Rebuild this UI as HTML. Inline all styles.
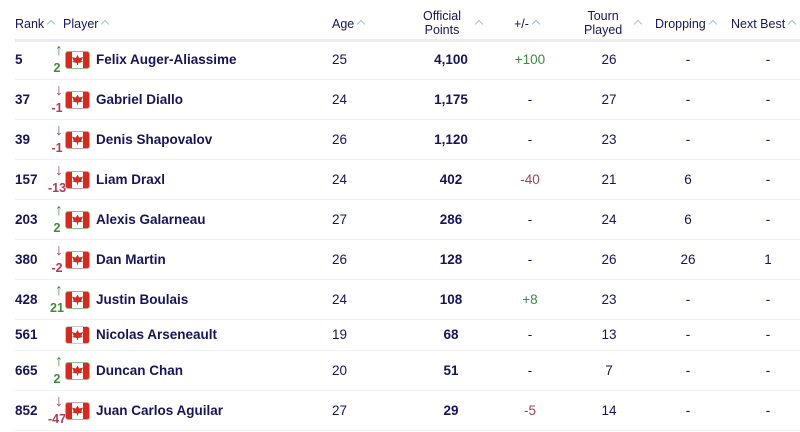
<!DOCTYPE html>
<html><head><meta charset="utf-8"><style>
body{margin:0;width:800px;height:432px;background:#fff;font-family:"Liberation Sans",sans-serif;color:#16155a;overflow:hidden;position:relative}
.h{position:absolute;font-size:12.5px;color:#16155a;line-height:14px;white-space:nowrap}
.c{display:inline-block;width:5px;height:5px;border-left:1px solid #a9bfd3;border-top:1px solid #a9bfd3;transform:rotate(45deg);margin:0 3px 1px 4px;vertical-align:middle}
.hl{position:absolute;left:15px;right:0;top:39px;height:3px;background:#ececf0}
.r{position:absolute;left:15px;right:0;border-bottom:1px solid #f0f0f2}
.r span{position:absolute;top:50%;transform:translateY(-50%);font-size:13.5px;white-space:nowrap;line-height:16px}
.rk{left:0;font-weight:bold}
.nm{left:81px;font-weight:bold}
.ag{left:317px}
.pt,.cc{width:80px;margin-left:-40px;text-align:center}
.pt{left:436px;font-weight:bold}
.g{color:#3d8c3d}.d{color:#a8405a}
.fl{position:absolute;left:50px;top:50%;margin-top:-9px;width:23px;height:16px;border:1px solid #ccc;border-radius:3px;background:linear-gradient(90deg,#d52b1e 0 27%,#fff 27% 73%,#d52b1e 73%);overflow:hidden}
.fl:after{content:"";position:absolute;left:6px;top:3px;width:11px;height:10px;background:#d52b1e;clip-path:polygon(50% 0,65% 30%,100% 20%,85% 60%,100% 70%,55% 80%,55% 100%,45% 100%,45% 80%,0 70%,15% 60%,0 20%,35% 30%)}
.fg{border-color:#8fc08f}.fd{border-color:#d9a0ac}
.ar{position:absolute;left:37px;width:14px;text-align:center;font-size:16px;line-height:14px}
.mv{position:absolute;left:32px;width:20px;text-align:center;font-size:12.5px;font-weight:bold;line-height:12px}
</style></head><body>
<div class="h" style="left:15px;top:17px">Rank<span class="c"></span></div>
<div class="h" style="left:63px;top:17px">Player<span class="c"></span></div>
<div class="h" style="left:332px;top:17px">Age<span class="c"></span></div>
<div class="h" style="left:423px;top:9px;text-align:center">Official<br>Points</div><div class="h" style="left:472px;top:17px"><span class="c"></span></div>
<div class="h" style="left:514px;top:17px">+/-<span class="c"></span></div>
<div class="h" style="left:584px;top:9px;text-align:center">Tourn<br>Played</div><div class="h" style="left:631px;top:17px"><span class="c"></span></div>
<div class="h" style="left:655px;top:17px">Dropping<span class="c"></span></div>
<div class="h" style="left:731px;top:17px">Next Best<span class="c"></span></div>
<div class="hl"></div>

<div class="r" style="top:41px;height:38px"><span class="rk">5</span><div class="ar g" style="top:3px">↑</div><div class="mv g" style="top:21px">2</div><div class="fl fg"></div><span class="nm">Felix Auger-Aliassime</span><span class="ag">25</span><span class="pt">4,100</span><span class="cc g" style="left:515px">+100</span><span class="cc" style="left:594px">26</span><span class="cc" style="left:673px">-</span><span class="cc" style="left:753px">-</span></div>

<div class="r" style="top:80px;height:39px"><span class="rk">37</span><div class="ar d" style="top:4px">↓</div><div class="mv d" style="top:22px">-1</div><div class="fl fd"></div><span class="nm">Gabriel Diallo</span><span class="ag">24</span><span class="pt">1,175</span><span class="cc" style="left:515px">-</span><span class="cc" style="left:594px">27</span><span class="cc" style="left:673px">-</span><span class="cc" style="left:753px">-</span></div>

<div class="r" style="top:120px;height:39px"><span class="rk">39</span><div class="ar d" style="top:4px">↓</div><div class="mv d" style="top:22px">-1</div><div class="fl fd"></div><span class="nm">Denis Shapovalov</span><span class="ag">26</span><span class="pt">1,120</span><span class="cc" style="left:515px">-</span><span class="cc" style="left:594px">23</span><span class="cc" style="left:673px">-</span><span class="cc" style="left:753px">-</span></div>

<div class="r" style="top:160px;height:39px"><span class="rk">157</span><div class="ar d" style="top:4px">↓</div><div class="mv d" style="top:22px">-13</div><div class="fl fd"></div><span class="nm">Liam Draxl</span><span class="ag">24</span><span class="pt">402</span><span class="cc d" style="left:515px">-40</span><span class="cc" style="left:594px">21</span><span class="cc" style="left:673px">6</span><span class="cc" style="left:753px">-</span></div>

<div class="r" style="top:200px;height:39px"><span class="rk">203</span><div class="ar g" style="top:4px">↑</div><div class="mv g" style="top:22px">2</div><div class="fl fg"></div><span class="nm">Alexis Galarneau</span><span class="ag">27</span><span class="pt">286</span><span class="cc" style="left:515px">-</span><span class="cc" style="left:594px">24</span><span class="cc" style="left:673px">6</span><span class="cc" style="left:753px">-</span></div>

<div class="r" style="top:240px;height:39px"><span class="rk">380</span><div class="ar d" style="top:4px">↓</div><div class="mv d" style="top:22px">-2</div><div class="fl fd"></div><span class="nm">Dan Martin</span><span class="ag">26</span><span class="pt">128</span><span class="cc" style="left:515px">-</span><span class="cc" style="left:594px">26</span><span class="cc" style="left:673px">26</span><span class="cc" style="left:753px">1</span></div>

<div class="r" style="top:280px;height:39px"><span class="rk">428</span><div class="ar g" style="top:4px">↑</div><div class="mv g" style="top:22px">21</div><div class="fl fg"></div><span class="nm">Justin Boulais</span><span class="ag">24</span><span class="pt">108</span><span class="cc g" style="left:515px">+8</span><span class="cc" style="left:594px">23</span><span class="cc" style="left:673px">-</span><span class="cc" style="left:753px">-</span></div>

<div class="r" style="top:320px;height:30px"><span class="rk">561</span><div class="fl"></div><span class="nm">Nicolas Arseneault</span><span class="ag">19</span><span class="pt">68</span><span class="cc" style="left:515px">-</span><span class="cc" style="left:594px">13</span><span class="cc" style="left:673px">-</span><span class="cc" style="left:753px">-</span></div>

<div class="r" style="top:351px;height:39px"><span class="rk">665</span><div class="ar g" style="top:4px">↑</div><div class="mv g" style="top:22px">2</div><div class="fl fg"></div><span class="nm">Duncan Chan</span><span class="ag">20</span><span class="pt">51</span><span class="cc" style="left:515px">-</span><span class="cc" style="left:594px">7</span><span class="cc" style="left:673px">-</span><span class="cc" style="left:753px">-</span></div>

<div class="r" style="top:391px;height:39px"><span class="rk">852</span><div class="ar d" style="top:4px">↓</div><div class="mv d" style="top:22px">-47</div><div class="fl fd"></div><span class="nm">Juan Carlos Aguilar</span><span class="ag">27</span><span class="pt">29</span><span class="cc d" style="left:515px">-5</span><span class="cc" style="left:594px">14</span><span class="cc" style="left:673px">-</span><span class="cc" style="left:753px">-</span></div>
</body></html>
